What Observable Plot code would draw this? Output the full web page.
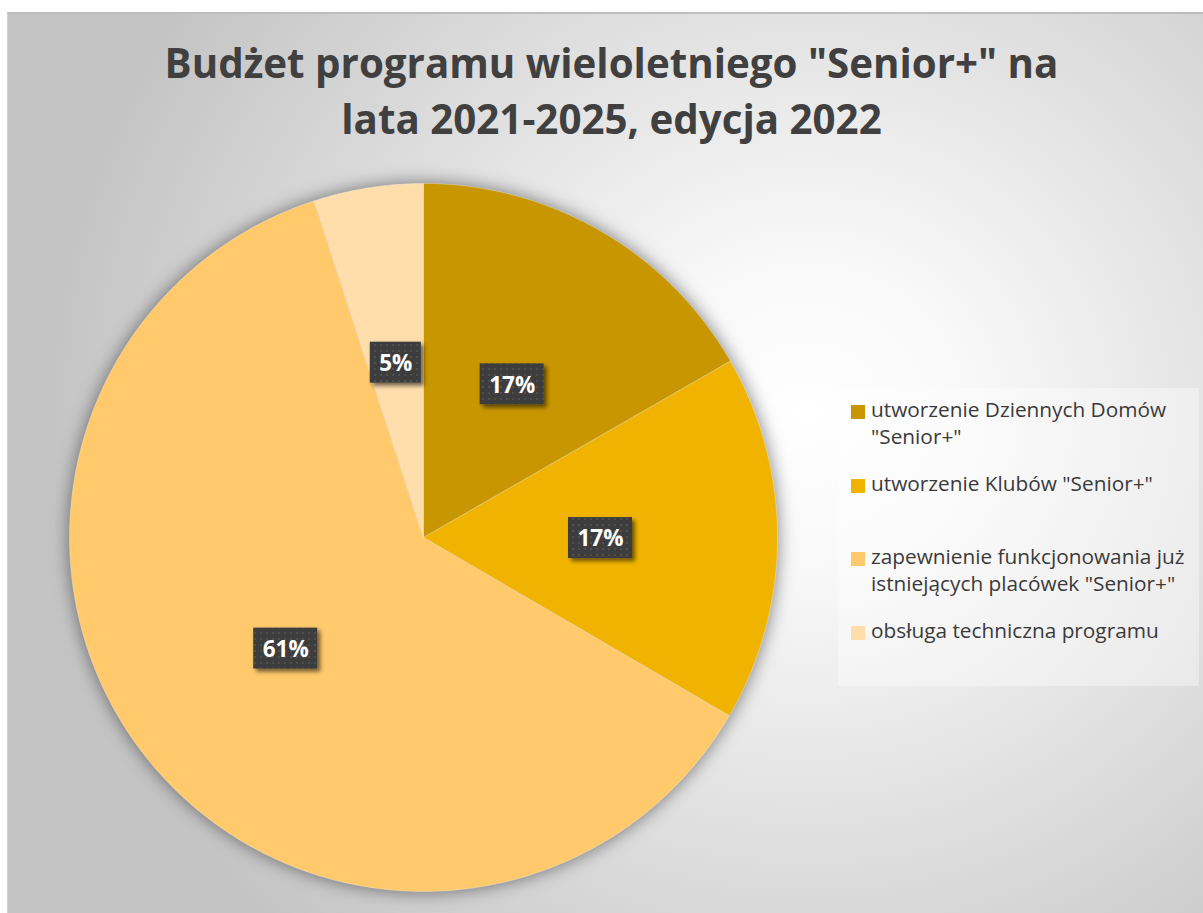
<!DOCTYPE html>
<html lang="pl">
<head>
<meta charset="utf-8">
<script src="https://cdn.jsdelivr.net/npm/d3@7"></script>
<script src="https://cdn.jsdelivr.net/npm/@observablehq/plot@0.6"></script>
<style>
  html, body { margin: 0; padding: 0; background: #ffffff; overflow: hidden; }
  #page { position: absolute; left: 0; top: 0; width: 1203px; height: 913px; background: #ffffff; overflow: hidden; }
  #frame { position: absolute; left: 7px; top: 12px; width: 1196px; height: 901px; box-sizing: border-box;
    border-left: 1px solid #d0d0d0; border-top: 2px solid #bdbdbd;
    background: radial-gradient(ellipse 760px 720px at 800px 400px, #ffffff 0%, #f8f8f8 22%, #e2e2e2 55%, #c4c4c4 100%); }
  #chart { position: absolute; left: 0; top: 0; }
  .title { position: absolute; left: 0; width: 1223px; text-align: center; font-family: "Open Sans", sans-serif;
    font-weight: 700; font-size: 40.3px; line-height: 56px; color: #404040; white-space: nowrap; }
  #legend { position: absolute; left: 838px; top: 388px; width: 361px; height: 298px; background: rgba(255,255,255,0.38); }
  .item { position: absolute; left: 871px; width: 328px; font-family: "Open Sans", sans-serif; font-size: 20.8px;
    line-height: 27px; color: #3a3a3a; }
  .sw { position: absolute; left: 851px; width: 14px; height: 14px; }
</style>
</head>
<body>
<div id="page">
  <div id="frame"></div>
  <div id="legend"></div>
  <div id="chart"></div>
  <div class="title" id="t1" style="top:35px"></div>
  <div class="title" id="t2" style="top:91px"></div>
</div>
<script>
// ---- data ----
const titleLines = ["Budżet programu wieloletniego \"Senior+\" na", "lata 2021-2025, edycja 2022"];
const categories = [
  "utworzenie Dziennych Domów \"Senior+\"",
  "utworzenie Klubów \"Senior+\"",
  "zapewnienie funkcjonowania już istniejących placówek \"Senior+\"",
  "obsługa techniczna programu"
];
const values = [16.7, 16.7, 61.6, 5.0];
const valueLabels = ["17%", "17%", "61%", "5%"];
const colors = ["#C89600", "#F0B400", "#FFC96C", "#FFDEAC"];

// ---- layout ----
const W = 1203, H = 913;
const k = 354;            // pie radius in px
const cx = 423, cy = 537; // pie centre in px

const total = d3.sum(values);
const slices = [];
let cum = 0;
values.forEach((v, i) => {
  const a0 = 2 * Math.PI * cum / total;
  cum += v;
  const a1 = 2 * Math.PI * cum / total;
  const n = Math.max(2, Math.ceil((a1 - a0) / (Math.PI / 360)));
  const pts = [{x: 0, y: 0}];
  for (let j = 0; j <= n; j++) {
    const t = a0 + (a1 - a0) * j / n;
    pts.push({x: Math.sin(t), y: Math.cos(t)});
  }
  pts.push({x: 0, y: 0});
  const m = (a0 + a1) / 2;
  slices.push({cat: categories[i], color: colors[i], pts, lx: 0.5 * Math.sin(m), ly: 0.5 * Math.cos(m), label: valueLabels[i]});
});

const disk = d3.range(0, 721).map(j => ({x: Math.sin(j * Math.PI / 360), y: Math.cos(j * Math.PI / 360)}));

// label box widths from text measurement
const ctx = document.createElement("canvas").getContext("2d");
ctx.font = "bold 22.5px 'Open Sans'";
slices.forEach(s => { s.w = ctx.measureText(s.label).width + 18; s.h = 41; });

const plot = Plot.plot({
  width: W, height: H,
  marginTop: 0, marginRight: 0, marginBottom: 0, marginLeft: 0,
  x: {domain: [-cx / k, (W - cx) / k], axis: null},
  y: {domain: [-(H - cy) / k, cy / k], axis: null},
  style: {background: "transparent", overflow: "visible"},
  marks: [
    Plot.line(disk, {x: "x", y: "y", fill: "#000", fillOpacity: 0.5, stroke: "none"}),
    ...slices.map(s => Plot.line(s.pts, {x: "x", y: "y", fill: s.color, stroke: "#ffffff", strokeOpacity: 0.3, strokeWidth: 1})),
    Plot.rect(slices, {
      x1: d => d.lx - d.w / 2 / k, x2: d => d.lx + d.w / 2 / k,
      y1: d => d.ly - d.h / 2 / k, y2: d => d.ly + d.h / 2 / k,
      fill: "#3f3f3f"
    }),
    Plot.text(slices, {x: "lx", y: "ly", text: "label", fill: "#ffffff", fontSize: 22.5, fontWeight: "bold",
      fontFamily: "'Open Sans', sans-serif", dy: 1})
  ]
});
document.getElementById("chart").appendChild(plot);

// filters & pattern
const svg = d3.select(plot);
const defs = svg.insert("defs", ":first-child");
defs.append("filter").attr("id", "pieShadow").attr("x", "-20%").attr("y", "-20%").attr("width", "140%").attr("height", "140%")
  .append("feGaussianBlur").attr("stdDeviation", 9);
const ls = defs.append("filter").attr("id", "lblShadow").attr("x", "-30%").attr("y", "-30%").attr("width", "170%").attr("height", "170%");
ls.append("feDropShadow").attr("dx", 3).attr("dy", 3).attr("stdDeviation", 2.2).attr("flood-color", "#000").attr("flood-opacity", 0.55);
const pat = defs.append("pattern").attr("id", "dots").attr("width", 6).attr("height", 6).attr("patternUnits", "userSpaceOnUse");
pat.append("rect").attr("width", 6).attr("height", 6).attr("fill", "#3d3d3d");
pat.append("circle").attr("cx", 3).attr("cy", 3).attr("r", 1).attr("fill", "#555555");

const lineGroups = plot.querySelectorAll('g[aria-label="line"]');
lineGroups[0].setAttribute("filter", "url(#pieShadow)");
const rectG = plot.querySelector('g[aria-label="rect"]');
rectG.setAttribute("filter", "url(#lblShadow)");
rectG.querySelectorAll("rect").forEach(r => r.setAttribute("fill", "url(#dots)"));

// title
document.getElementById("t1").textContent = titleLines[0];
document.getElementById("t2").textContent = titleLines[1];

// legend
const page = document.getElementById("page");
const itemTops = [396.3, 470, 543.3, 617.3];
categories.forEach((c, i) => {
  const sw = document.createElement("div");
  sw.className = "sw";
  sw.style.top = (itemTops[i] + 8.7) + "px";
  sw.style.background = colors[i];
  page.appendChild(sw);
  const it = document.createElement("div");
  it.className = "item";
  it.style.top = itemTops[i] + "px";
  it.textContent = c;
  page.appendChild(it);
});
</script>
</body>
</html>
